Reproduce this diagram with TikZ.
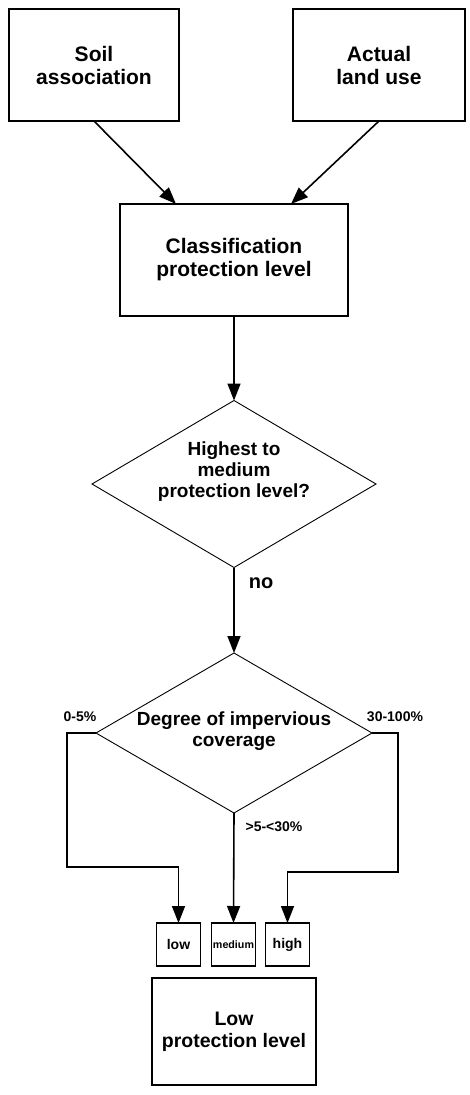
\documentclass[tikz,border=0pt]{standalone}
\usepackage{fontspec}
\setmainfont{Liberation Sans}
\usetikzlibrary{shapes.geometric,arrows.meta}
\begin{document}
\begin{tikzpicture}[x=1pt,y=-1pt,
  box/.style={draw,line width=1.8pt,inner sep=0pt,outer sep=0pt,align=center,
    font=\fontsize{21}{23}\selectfont\bfseries},
  smallbox/.style={draw,line width=1.6pt,inner sep=0pt,outer sep=0pt,
    minimum width=44pt,minimum height=43pt,font=\fontsize{14}{16}\selectfont\bfseries},
  dia/.style={draw,shape=diamond,line width=0.9pt,inner sep=0pt,outer sep=0pt},
  dtext/.style={align=center,font=\fontsize{19}{21}\selectfont\bfseries},
  lab/.style={font=\fontsize{14}{16}\selectfont\bfseries,inner sep=0pt},
  arr/.style={line width=1.6pt,-{Triangle[length=17pt,width=13pt]}},
  ln/.style={line width=1.6pt}]
\useasboundingbox (0,0) rectangle (470,1095);
\fill[white] (0,0) rectangle (470,1095);

\node[box,minimum width=170pt,minimum height=112pt] (soil) at (94,65) {Soil\\association};
\node[box,minimum width=172pt,minimum height=112pt] (actual) at (379,65) {Actual\\land use};
\node[box,minimum width=228pt,minimum height=112pt] (class) at (234,260) {Classification\\protection level};

\node[dia,minimum width=284pt,minimum height=167pt] (d1) at (234,484) {};
\node[dtext] (d1t) at (234,472) {Highest to\\medium\\protection level?};

\node[dia,minimum width=276pt,minimum height=160pt] (d2) at (234,733) {};
\node[dtext] (d2t) at (234,731) {Degree of impervious\\coverage};

\node[smallbox] (low) at (178.5,944.5) {low};
\node[smallbox,font=\fontsize{10.7}{12}\selectfont\bfseries] (med) at (233.5,944.5) {medium};
\node[smallbox] (high) at (287.5,944.5) {high};

\node[box,minimum width=164pt,minimum height=107pt,font=\fontsize{19.5}{22}\selectfont\bfseries] (lowp) at (234,1031.5) {Low\\protection level};

\node[font=\fontsize{20}{22}\selectfont\bfseries,inner sep=0pt] (no) at (261,583) {no};
\node[lab] (l1) at (80,717) {0-5\%};
\node[lab] (l2) at (395,717) {30-100\%};
\node[lab] (l3) at (274,827) {>5-<30\%};

\coordinate (c1) at (67,867);
\coordinate (c2) at (398,872);

\draw[arr] (soil.south) -- ([xshift=56pt]class.north west);
\draw[arr] (actual.south) -- ([xshift=-57pt]class.north east);
\draw[arr] (class.south) -- (d1.north);
\draw[arr] (d1.south) -- (d2.north);
\draw[arr] (d2.west) -| (c1) -| (low.north);
\draw[arr] (d2.south) -- (med.north);
\draw[arr] (d2.east) -| (c2) -| (high.north);
\end{tikzpicture}
\end{document}
